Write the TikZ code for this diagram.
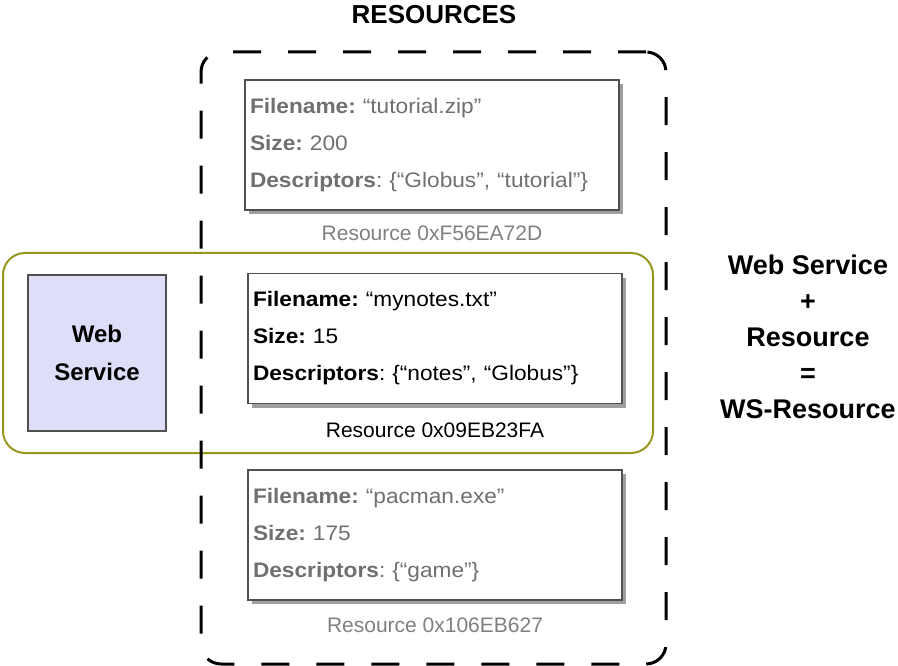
\documentclass[tikz,border=0pt]{standalone}
\usepackage{fontspec}
\setmainfont{Liberation Sans}
\newfontfamily\boxfont[FakeStretch=1.08]{Liberation Sans}
\frenchspacing
\usetikzlibrary{positioning,shadows}
\definecolor{wsolive}{RGB}{150,150,30}
\definecolor{wsfill}{RGB}{222,222,248}
\definecolor{resgray}{RGB}{112,112,112}
\definecolor{framegray}{RGB}{80,80,80}

\begin{document}
\begin{tikzpicture}[x=1pt,y=-1pt,
    resbox/.style={draw=framegray,line width=1.3pt,fill=white,minimum width=374pt,
                   minimum height=130pt,text width=364pt,align=left,
                   font=\boxfont\fontsize{21}{37}\selectfont,
                   drop shadow={shadow xshift=4pt,shadow yshift=-4pt,fill=gray!75,opacity=1}},
    faded/.style={text=resgray},
    reslabel/.style={inner sep=0pt,font=\fontsize{21}{24}\selectfont},
    wsbox/.style={draw=framegray,line width=1.3pt,fill=wsfill,minimum width=138pt,
                  minimum height=156pt,align=center,font=\fontsize{24}{38}\selectfont\bfseries},
    bigtext/.style={align=center,font=\fontsize{27}{36}\selectfont\bfseries}]

  \useasboundingbox (0,0) rectangle (898,666);

  \node[draw=wsolive,line width=2pt,rounded corners=22pt,minimum width=650pt,
        minimum height=200pt] (wsres) at (328,353) {};
  \node[draw,line width=3pt,dash pattern=on 28pt off 27pt,rounded corners=20pt,
        minimum width=465pt,minimum height=612pt] (resources) at (433.5,358) {};
  \node[font=\fontsize{26}{30}\selectfont\bfseries] (restitle) at (434,15) {RESOURCES};

  \node[resbox,faded] (res1) at (432,145)
    {\textbf{Filename:} “tutorial.zip”\\\textbf{Size:} 200\\\textbf{Descriptors}: \{“Globus”, “tutorial”\}};
  \node[resbox] (res2) at (435,338.5)
    {\textbf{Filename:} “mynotes.txt”\\\textbf{Size:} 15\\\textbf{Descriptors}: \{“notes”, “Globus”\}};
  \node[resbox,faded] (res3) at (435,535)
    {\textbf{Filename:} “pacman.exe”\\\textbf{Size:} 175\\\textbf{Descriptors}: \{“game”\}};

  \node[reslabel,text=gray,below=15pt of res1] (lab1) {Resource 0xF56EA72D};
  \node[reslabel,below=18pt of res2] (lab2) {Resource 0x09EB23FA};
  \node[reslabel,text=gray,below=17pt of res3] (lab3) {Resource 0x106EB627};

  \node[wsbox] (ws) at (97,353) {Web\\Service};

  \node[bigtext] (sum) at (808,337) {Web Service\\+\\Resource\\=\\WS-Resource};
\end{tikzpicture}
\end{document}
